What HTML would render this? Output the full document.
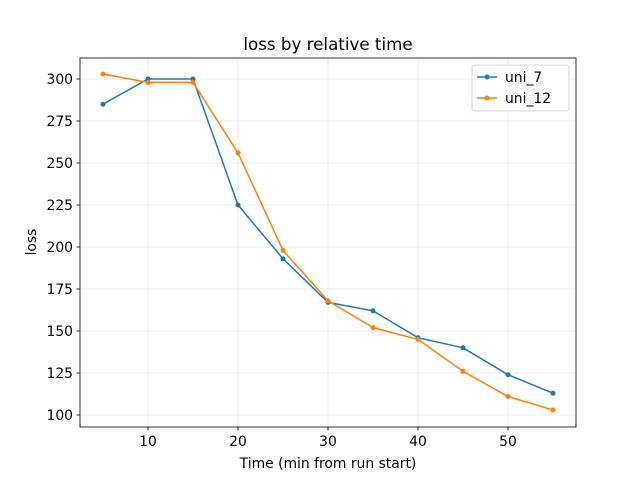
<!DOCTYPE html>
<html><head><style>body{margin:0;background:#fff}</style></head><body>
<svg width="640" height="480" xmlns="http://www.w3.org/2000/svg" font-family="DejaVu Sans, Liberation Sans, sans-serif">
<rect width="640" height="480" fill="#fff"/>
<g stroke="#e6e6e6" stroke-width="0.8">
<line x1="148" y1="58" x2="148" y2="427"/><line x1="238" y1="58" x2="238" y2="427"/><line x1="328" y1="58" x2="328" y2="427"/><line x1="418" y1="58" x2="418" y2="427"/><line x1="508" y1="58" x2="508" y2="427"/>
<line x1="80" y1="415" x2="576" y2="415"/><line x1="80" y1="373" x2="576" y2="373"/><line x1="80" y1="331" x2="576" y2="331"/><line x1="80" y1="289" x2="576" y2="289"/><line x1="80" y1="247" x2="576" y2="247"/><line x1="80" y1="205" x2="576" y2="205"/><line x1="80" y1="163" x2="576" y2="163"/><line x1="80" y1="121" x2="576" y2="121"/><line x1="80" y1="79" x2="576" y2="79"/>
</g>
<polyline fill="none" stroke="#1f77b4" stroke-width="1.5" points="103,104.2 148,79 193,79 238,205 283,258.8 328,302.4 373,310.8 418,337.7 463,347.8 508,374.7 553,393.2"/>
<g fill="#1f77b4"><circle cx="103" cy="104.2" r="2.5"/><circle cx="148" cy="79" r="2.5"/><circle cx="193" cy="79" r="2.5"/><circle cx="238" cy="205" r="2.5"/><circle cx="283" cy="258.8" r="2.5"/><circle cx="328" cy="302.4" r="2.5"/><circle cx="373" cy="310.8" r="2.5"/><circle cx="418" cy="337.7" r="2.5"/><circle cx="463" cy="347.8" r="2.5"/><circle cx="508" cy="374.7" r="2.5"/><circle cx="553" cy="393.2" r="2.5"/></g>
<polyline fill="none" stroke="#ff7f0e" stroke-width="1.5" points="103,74 148,82.4 193,82.4 238,152.9 283,250.4 328,300.8 373,327.6 418,339.4 463,371.3 508,396.5 553,410"/>
<g fill="#ff7f0e"><circle cx="103" cy="74" r="2.5"/><circle cx="148" cy="82.4" r="2.5"/><circle cx="193" cy="82.4" r="2.5"/><circle cx="238" cy="152.9" r="2.5"/><circle cx="283" cy="250.4" r="2.5"/><circle cx="328" cy="300.8" r="2.5"/><circle cx="373" cy="327.6" r="2.5"/><circle cx="418" cy="339.4" r="2.5"/><circle cx="463" cy="371.3" r="2.5"/><circle cx="508" cy="396.5" r="2.5"/><circle cx="553" cy="410" r="2.5"/></g>
<rect x="80" y="58" width="496" height="369" fill="none" stroke="#000" stroke-width="0.8"/>
<g stroke="#000" stroke-width="0.8">
<line x1="148" y1="427" x2="148" y2="430.5"/><line x1="238" y1="427" x2="238" y2="430.5"/><line x1="328" y1="427" x2="328" y2="430.5"/><line x1="418" y1="427" x2="418" y2="430.5"/><line x1="508" y1="427" x2="508" y2="430.5"/>
<line x1="76.5" y1="415" x2="80" y2="415"/><line x1="76.5" y1="373" x2="80" y2="373"/><line x1="76.5" y1="331" x2="80" y2="331"/><line x1="76.5" y1="289" x2="80" y2="289"/><line x1="76.5" y1="247" x2="80" y2="247"/><line x1="76.5" y1="205" x2="80" y2="205"/><line x1="76.5" y1="163" x2="80" y2="163"/><line x1="76.5" y1="121" x2="80" y2="121"/><line x1="76.5" y1="79" x2="80" y2="79"/>
</g>
<g font-size="13.9" text-anchor="middle" fill="#000">
<text x="148" y="446">10</text><text x="238" y="446">20</text><text x="328" y="446">30</text><text x="418" y="446">40</text><text x="508" y="446">50</text>
</g>
<g font-size="13.9" text-anchor="end" fill="#000">
<text x="73" y="420">100</text><text x="73" y="378">125</text><text x="73" y="336">150</text><text x="73" y="294">175</text><text x="73" y="252">200</text><text x="73" y="210">225</text><text x="73" y="168">250</text><text x="73" y="126">275</text><text x="73" y="84">300</text>
</g>
<text x="328" y="468" font-size="13.9" text-anchor="middle">Time (min from run start)</text>
<text x="36" y="242" font-size="13.9" text-anchor="middle" transform="rotate(-90 36 242)">loss</text>
<text x="328" y="50" font-size="16.7" text-anchor="middle">loss by relative time</text>
<rect x="472" y="65" width="97" height="46" rx="2" fill="#fff" stroke="#ccc" stroke-width="0.8"/>
<line x1="477" y1="77" x2="497" y2="77" stroke="#1f77b4" stroke-width="1.5"/><circle cx="487" cy="77" r="2.5" fill="#1f77b4"/>
<text x="505" y="82" font-size="13.9">uni_7</text>
<line x1="477" y1="98" x2="497" y2="98" stroke="#ff7f0e" stroke-width="1.5"/><circle cx="487" cy="98" r="2.5" fill="#ff7f0e"/>
<text x="505" y="103" font-size="13.9">uni_12</text>
</svg>
</body></html>
